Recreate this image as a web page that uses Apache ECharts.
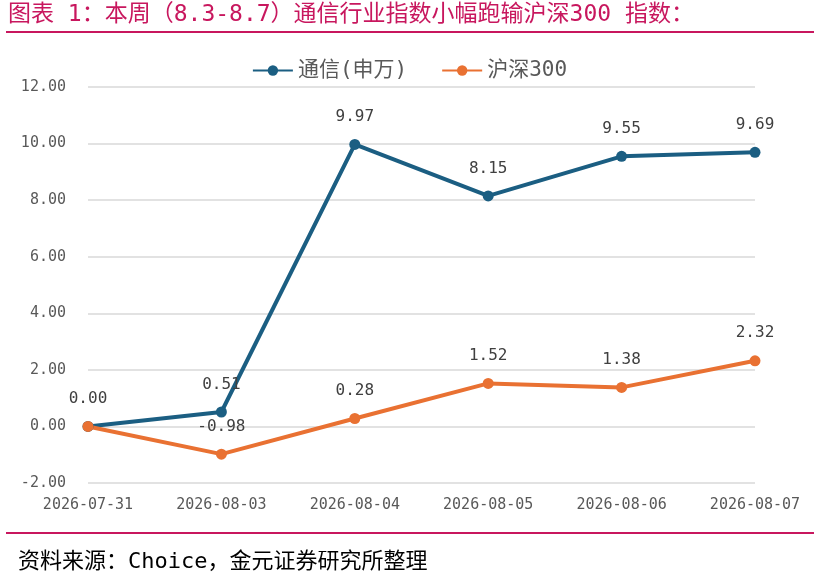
<!DOCTYPE html>
<html>
<head>
    <meta charset="utf-8">
    <title>通信行业指数 vs 沪深300</title>
    <script src="https://cdn.jsdelivr.net/npm/echarts@6/dist/echarts.min.js"></script>
    <style>
        body { margin: 0; background: #fff; }
    </style>
</head>
<body>
    <div id="main" style="width: 819px;height:584px;"></div>
    <script type="text/javascript">
        // 数据
        var dates = ['2026-07-31', '2026-08-03', '2026-08-04', '2026-08-05', '2026-08-06', '2026-08-07'];
        var telecom = [0.00, 0.51, 9.97, 8.15, 9.55, 9.69];
        var hs300 = [0.00, -0.98, 0.28, 1.52, 1.38, 2.32];
        var yTicks = [-2, 0, 2, 4, 6, 8, 10, 12];

        // 拉丁字符用等宽字体，中文回落到 Noto Sans CJK
        var numFont = '"DejaVu Sans Mono", "Noto Sans CJK SC", monospace';
        var pink = '#C8175E';

        var myChart = echarts.init(document.getElementById('main'));

        // 沪深300 第一个标签与通信重叠，原图不显示
        var hsData = hs300.map(function (v, i) {
            return i === 0 ? { value: v, label: { show: false } } : v;
        });

        var option = {
            animation: false,
            graphic: [
                {
                    type: 'text', left: 8, top: 4,
                    style: { text: '图表 1：本周（8.3-8.7）通信行业指数小幅跑输沪深300 指数：', fill: pink, font: '23px ' + numFont }
                },
                { type: 'rect', shape: { x: 6, y: 31, width: 808, height: 2 }, style: { fill: pink } },
                { type: 'rect', shape: { x: 6, y: 532, width: 808, height: 2 }, style: { fill: pink } },
                {
                    type: 'text', left: 18, top: 551,
                    style: { text: '资料来源：Choice，金元证券研究所整理', fill: '#000', font: '22px ' + numFont }
                }
            ],
            legend: {
                top: 55,
                left: 'center',
                itemWidth: 40,
                itemHeight: 13,
                itemGap: 34,
                textStyle: { color: '#595959', fontSize: 21, fontFamily: numFont },
                data: ['通信(申万)', '沪深300']
            },
            grid: {
                left: 88,
                right: 64,
                top: 87,
                bottom: 101
            },
            xAxis: {
                type: 'category',
                data: dates,
                boundaryGap: false,
                axisLine: { show: false },
                axisTick: { show: false },
                axisLabel: { color: '#595959', fontSize: 15, fontFamily: numFont, margin: 15 }
            },
            yAxis: {
                type: 'value',
                min: yTicks[0],
                max: yTicks[yTicks.length - 1],
                interval: 2,
                axisLine: { show: false },
                axisTick: { show: false },
                splitLine: { lineStyle: { color: '#d9d9d9', width: 1.5 } },
                axisLabel: {
                    color: '#595959', fontSize: 15, fontFamily: numFont, margin: 22,
                    formatter: function (v) { return v.toFixed(2); }
                }
            },
            series: [
                {
                    name: '通信(申万)',
                    type: 'line',
                    data: telecom,
                    symbol: 'circle',
                    symbolSize: 11,
                    lineStyle: { width: 4, color: '#1B5E82' },
                    itemStyle: { color: '#1B5E82' },
                    label: {
                        show: true, position: 'top', distance: 14,
                        color: '#404040', fontSize: 16, fontFamily: numFont,
                        formatter: function (p) { return p.value.toFixed(2); }
                    }
                },
                {
                    name: '沪深300',
                    type: 'line',
                    data: hsData,
                    symbol: 'circle',
                    symbolSize: 11,
                    lineStyle: { width: 4, color: '#E97132' },
                    itemStyle: { color: '#E97132' },
                    label: {
                        show: true, position: 'top', distance: 14,
                        color: '#404040', fontSize: 16, fontFamily: numFont,
                        formatter: function (p) { return (+p.value).toFixed(2); }
                    }
                }
            ]
        };

        myChart.setOption(option);
    </script>
</body>
</html>
